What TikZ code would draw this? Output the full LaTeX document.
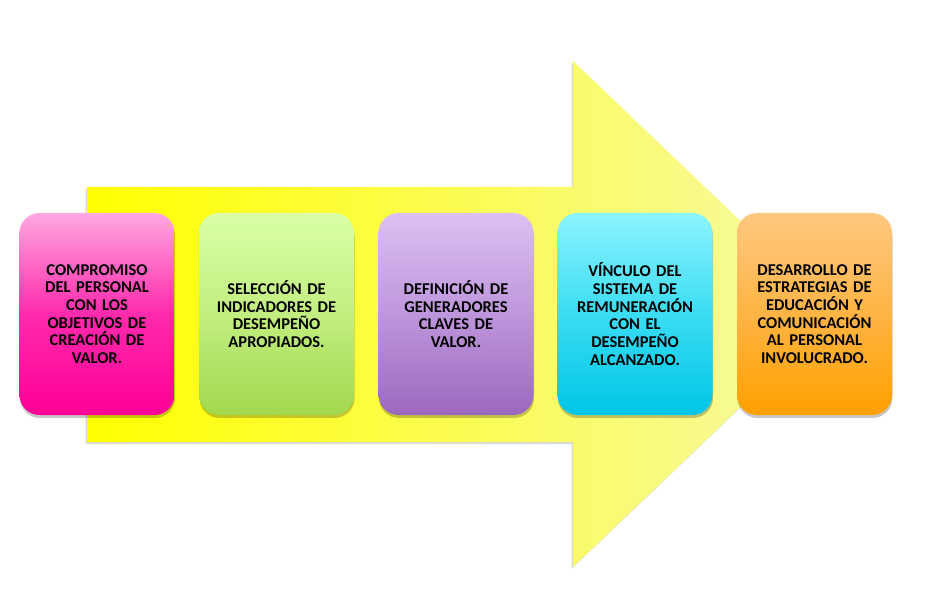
\documentclass[tikz,border=0pt]{standalone}
\usepackage{fontspec}
\setmainfont{Carlito}
\usetikzlibrary{shadows}
\definecolor{pinkTop}{HTML}{FFA8E0}
\definecolor{pinkMid}{HTML}{FF2AAC}
\definecolor{pinkBot}{HTML}{FF0096}
\definecolor{greenTop}{HTML}{DAFFA6}
\definecolor{greenMid}{HTML}{C2EE80}
\definecolor{greenBot}{HTML}{A2D84E}
\definecolor{purpTop}{HTML}{DCC0F2}
\definecolor{purpMid}{HTML}{BE96DC}
\definecolor{purpBot}{HTML}{9C68BE}
\definecolor{cyanTop}{HTML}{8CF4FF}
\definecolor{cyanMid}{HTML}{3ADCF2}
\definecolor{cyanBot}{HTML}{00C6E6}
\definecolor{orTop}{HTML}{FFC880}
\definecolor{orMid}{HTML}{FFB444}
\definecolor{orBot}{HTML}{FFA000}
\definecolor{arrL}{HTML}{FFFF00}
\definecolor{arrR}{HTML}{F6F9A6}
\begin{document}
\begin{tikzpicture}[x=1pt,y=-1pt,
  stage/.style={rounded corners=20pt, minimum width=155pt, minimum height=202pt,
    text width=145pt, align=center, inner sep=0pt,
    font=\fontsize{16.5}{17.7}\selectfont\bfseries, text=black,
    drop shadow={shadow xshift=0.5pt, shadow yshift=-3pt, opacity=0.22, fill=black}},
  bigarrow/.style={left color=arrL, right color=arrR,
    drop shadow={shadow xshift=-1.5pt, shadow yshift=-2pt, opacity=0.15, fill=black}}
]
\useasboundingbox (0,0) rectangle (934,604);
\path[bigarrow] (87,187) -- (573,187) -- (573,61) -- (838,314) -- (573,567) -- (573,442) -- (87,442) -- cycle;
\node[stage, top color=pinkTop, bottom color=pinkBot, middle color=pinkMid] (s1) at (97,314)
  {COMPROMISO\\DEL PERSONAL\\CON LOS\\OBJETIVOS DE\\CREACIÓN DE\\VALOR.};
\node[stage, top color=greenTop, bottom color=greenBot, middle color=greenMid] (s2) at (276.5,314)
  {SELECCIÓN DE\\INDICADORES DE\\DESEMPEÑO\\APROPIADOS.};
\node[stage, top color=purpTop, bottom color=purpBot, middle color=purpMid] (s3) at (456,314)
  {DEFINICIÓN DE\\GENERADORES\\CLAVES DE\\VALOR.};
\node[stage, top color=cyanTop, bottom color=cyanBot, middle color=cyanMid] (s4) at (635,314)
  {VÍNCULO DEL\\SISTEMA DE\\REMUNERACIÓN\\CON EL\\DESEMPEÑO\\ALCANZADO.};
\node[stage, top color=orTop, bottom color=orBot, middle color=orMid] (s5) at (814.5,314)
  {DESARROLLO DE\\ESTRATEGIAS DE\\EDUCACIÓN Y\\COMUNICACIÓN\\AL PERSONAL\\INVOLUCRADO.};
\end{tikzpicture}
\end{document}
